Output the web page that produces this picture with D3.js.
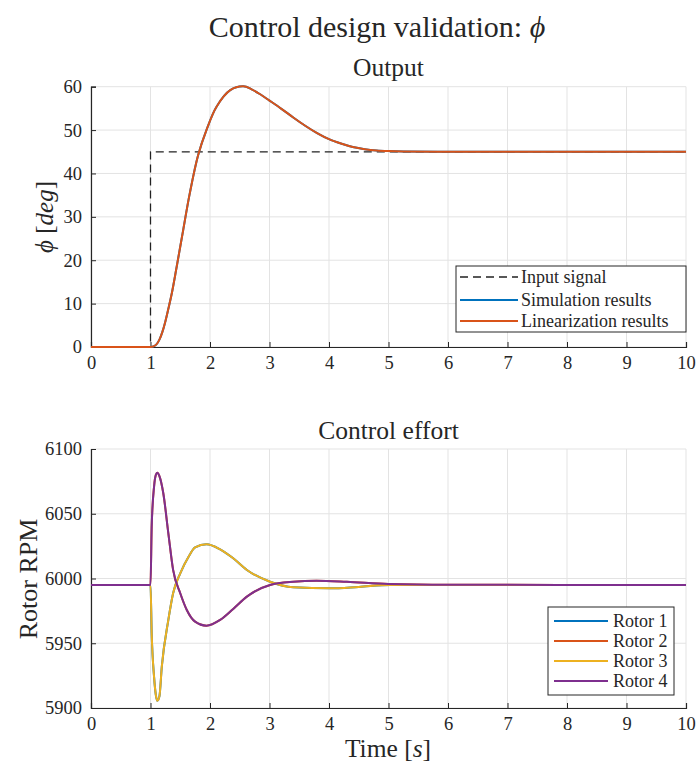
<!DOCTYPE html>
<html>
<head>
<meta charset="utf-8">
<script src="https://cdn.jsdelivr.net/npm/d3@7"></script>
<style>
  body { margin: 0; background: #fff; }
  svg text { font-family: "Liberation Serif", "Times New Roman", serif; fill: #262626; }
</style>
</head>
<body>
<svg id="fig" width="697" height="765"></svg>
<script>
// ---- data ----
const timeTicks = [0, 1, 2, 3, 4, 5, 6, 7, 8, 9, 10];
const phiTicks = [0, 10, 20, 30, 40, 50, 60];
const rpmTicks = [5900, 5950, 6000, 6050, 6100];

// reference step input (deg)
const inputTime = [0, 1, 1, 10];
const inputPhi = [0, 0, 45, 45];

// roll angle response (deg)
const outTime = [0, 0.8, 1.0, 1.05, 1.10, 1.15, 1.20, 1.25, 1.30, 1.36, 1.44, 1.55, 1.66, 1.80, 1.94, 2.11, 2.34, 2.56, 2.70, 2.85, 3.00, 3.20, 3.40, 3.60, 3.80, 4.00, 4.20, 4.40, 4.60, 4.80, 5.00, 5.25, 6.0, 7.0, 8.5, 10];
const simPhi = [0, 0, 0, 0.15, 0.6, 1.7, 3.5, 5.9, 8.8, 12.5, 18.5, 27.0, 35.4, 44.2, 50.0, 55.4, 59.2, 60.1, 59.4, 58.2, 56.8, 54.9, 52.9, 51.0, 49.3, 47.9, 46.9, 46.1, 45.6, 45.3, 45.15, 45.05, 45.0, 45.0, 45.0, 45.0];
const linPhi = [0, 0, 0, 0.15, 0.6, 1.7, 3.5, 5.9, 8.8, 12.5, 18.5, 27.0, 35.4, 44.2, 50.0, 55.4, 59.2, 60.1, 59.4, 58.2, 56.8, 54.9, 52.9, 51.0, 49.3, 47.9, 46.9, 46.1, 45.6, 45.3, 45.15, 45.05, 45.0, 45.0, 45.0, 45.0];

// rotor speeds (RPM)
const rotorTimeA = [0, 1.0, 1.02, 1.06, 1.09, 1.115, 1.15, 1.19, 1.30, 1.38, 1.50, 1.64, 1.75, 1.94, 2.17, 2.39, 2.62, 3.01, 3.40, 4.02, 4.50, 5.03, 6.0, 10];
const rotor1 = [5995, 5995, 5957.7, 5924, 5910, 5905.6, 5909, 5931.9, 5968, 5988.6, 6004, 6016.8, 6024, 6026.4, 6022.5, 6015.6, 6006.6, 5997.5, 5993.2, 5992.4, 5993.5, 5995, 5995, 5995];
const rotor3 = [5995, 5995, 5957.7, 5924, 5910, 5905.6, 5909, 5931.9, 5968, 5988.6, 6004, 6016.8, 6024, 6026.4, 6022.5, 6015.6, 6006.6, 5997.5, 5993.2, 5992.4, 5993.5, 5995, 5995, 5995];
const rotorTimeB = [0, 1.0, 1.02, 1.06, 1.09, 1.115, 1.15, 1.215, 1.30, 1.38, 1.50, 1.61, 1.75, 1.94, 2.17, 2.39, 2.62, 3.01, 3.40, 3.79, 4.30, 5.0, 6.0, 10];
const rotor2 = [5995, 5995, 6040, 6071, 6080, 6081.7, 6079, 6065.8, 6034.9, 6006.6, 5988.6, 5975.7, 5966.7, 5963.6, 5968, 5976.5, 5986, 5995, 5997.5, 5998.3, 5997.5, 5995.8, 5995.2, 5995];
const rotor4 = [5995, 5995, 6040, 6071, 6080, 6081.7, 6079, 6065.8, 6034.9, 6006.6, 5988.6, 5975.7, 5966.7, 5963.6, 5968, 5976.5, 5986, 5995, 5997.5, 5998.3, 5997.5, 5995.8, 5995.2, 5995];

const colors = { blue: "#0072BD", red: "#D95319", yellow: "#EDB120", purple: "#7E2F8E" };

// ---- drawing ----
const svg = d3.select("#fig");
const left = 91, right = 686;
const axisColor = "#262626", gridColor = "#e3e3e3";

function panel(cfg) {
  const x = d3.scaleLinear().domain([0, 10]).range([left, right]);
  const y = d3.scaleLinear().domain(cfg.yDomain).range([cfg.bottom, cfg.top]);
  const g = svg.append("g");

  // grid
  g.append("g").selectAll("line").data(timeTicks).join("line")
    .attr("x1", d => x(d)).attr("x2", d => x(d))
    .attr("y1", cfg.top).attr("y2", cfg.bottom)
    .attr("stroke", gridColor).attr("stroke-width", 1);
  g.append("g").selectAll("line").data(cfg.yTicks).join("line")
    .attr("x1", left).attr("x2", right)
    .attr("y1", d => y(d)).attr("y2", d => y(d))
    .attr("stroke", gridColor).attr("stroke-width", 1);

  // axes with inward ticks
  const xAxis = g.append("g").attr("transform", `translate(0,${cfg.bottom})`)
    .call(d3.axisBottom(x).tickValues(timeTicks).tickFormat(d3.format("d")).tickSize(-5).tickPadding(9));
  const yAxis = g.append("g").attr("transform", `translate(${left},0)`)
    .call(d3.axisLeft(y).tickValues(cfg.yTicks).tickFormat(d3.format("d")).tickSize(-5).tickPadding(9));
  [xAxis, yAxis].forEach(a => {
    a.select(".domain").attr("stroke", axisColor).attr("stroke-width", 1.2);
    a.selectAll(".tick line").attr("stroke", axisColor);
    a.selectAll(".tick text").attr("fill", axisColor)
      .style("font-family", '"Liberation Serif", serif').style("font-size", "18.5px");
  });

  // subplot title
  svg.append("text").attr("x", (left + right) / 2).attr("y", cfg.titleY)
    .attr("text-anchor", "middle").style("font-size", "25.5px").text(cfg.title);

  return { x, y, g };
}

// overall title
const title = svg.append("text").attr("x", 377).attr("y", 37)
  .attr("text-anchor", "middle").style("font-size", "30px");
title.append("tspan").text("Control design validation: ");
title.append("tspan").style("font-style", "italic").text("\u03D5");

// --- output panel ---
const p1 = panel({ top: 86.7, bottom: 347, yDomain: [0, 60], yTicks: phiTicks, title: "Output", titleY: 76 });
const line1 = d3.line().x(d => p1.x(d[0])).y(d => p1.y(d[1]));
const smooth1 = d3.line().x(d => p1.x(d[0])).y(d => p1.y(d[1])).curve(d3.curveCatmullRom.alpha(0.5));

p1.g.append("path").attr("d", line1(d3.zip(inputTime, inputPhi)))
  .attr("fill", "none").attr("stroke", "#222").attr("stroke-width", 1.3).attr("stroke-dasharray", "8,5");
p1.g.append("path").attr("d", smooth1(d3.zip(outTime, simPhi)))
  .attr("fill", "none").attr("stroke", colors.blue).attr("stroke-width", 2);
p1.g.append("path").attr("d", smooth1(d3.zip(outTime, linPhi)))
  .attr("fill", "none").attr("stroke", colors.red).attr("stroke-width", 2);

const ylab1 = svg.append("text").attr("transform", "translate(53,217) rotate(-90)")
  .attr("text-anchor", "middle").style("font-size", "25px");
ylab1.append("tspan").style("font-style", "italic").text("\u03D5");
ylab1.append("tspan").text(" [");
ylab1.append("tspan").style("font-style", "italic").text("deg");
ylab1.append("tspan").text("]");

// boxed legend
function legend(x0, y0, w, h, rowY, items) {
  const lg = svg.append("g");
  lg.append("rect").attr("x", x0).attr("y", y0).attr("width", w).attr("height", h)
    .attr("fill", "#fff").attr("stroke", "#262626").attr("stroke-width", 1);
  items.forEach((it, i) => {
    const yy = y0 + rowY[i];
    lg.append("line").attr("x1", x0 + it.lx1).attr("x2", x0 + it.lx2).attr("y1", yy).attr("y2", yy)
      .attr("stroke", it.color).attr("stroke-width", it.dash ? 1.3 : 2)
      .attr("stroke-dasharray", it.dash || null);
    lg.append("text").attr("x", x0 + it.tx).attr("y", yy + 6)
      .style("font-size", "18px").text(it.label);
  });
}
legend(456, 266, 230, 66, [11, 34, 55], [
  { label: "Input signal", color: "#222", dash: "8,5", lx1: 4, lx2: 62, tx: 65 },
  { label: "Simulation results", color: colors.blue, lx1: 4, lx2: 62, tx: 65 },
  { label: "Linearization results", color: colors.red, lx1: 4, lx2: 62, tx: 65 }
]);

// --- control effort panel ---
const p2 = panel({ top: 449, bottom: 708, yDomain: [5900, 6100], yTicks: rpmTicks, title: "Control effort", titleY: 439 });
const smooth2 = d3.line().x(d => p2.x(d[0])).y(d => p2.y(d[1])).curve(d3.curveMonotoneX);
[[rotorTimeA, rotor1, colors.blue], [rotorTimeB, rotor2, colors.red],
 [rotorTimeA, rotor3, colors.yellow], [rotorTimeB, rotor4, colors.purple]].forEach(([t, v, c]) => {
  p2.g.append("path").attr("d", smooth2(d3.zip(t, v)))
    .attr("fill", "none").attr("stroke", c).attr("stroke-width", 2);
});

svg.append("text").attr("transform", "translate(37,579) rotate(-90)")
  .attr("text-anchor", "middle").style("font-size", "26px").text("Rotor RPM");

const xlab = svg.append("text").attr("x", 388).attr("y", 757)
  .attr("text-anchor", "middle").style("font-size", "25.5px");
xlab.append("tspan").text("Time [");
xlab.append("tspan").style("font-style", "italic").text("s");
xlab.append("tspan").text("]");

legend(548, 607, 126, 88, [14, 34, 54, 74], [
  { label: "Rotor 1", color: colors.blue, lx1: 6, lx2: 60, tx: 65 },
  { label: "Rotor 2", color: colors.red, lx1: 6, lx2: 60, tx: 65 },
  { label: "Rotor 3", color: colors.yellow, lx1: 6, lx2: 60, tx: 65 },
  { label: "Rotor 4", color: colors.purple, lx1: 6, lx2: 60, tx: 65 }
]);
</script>
</body>
</html>
